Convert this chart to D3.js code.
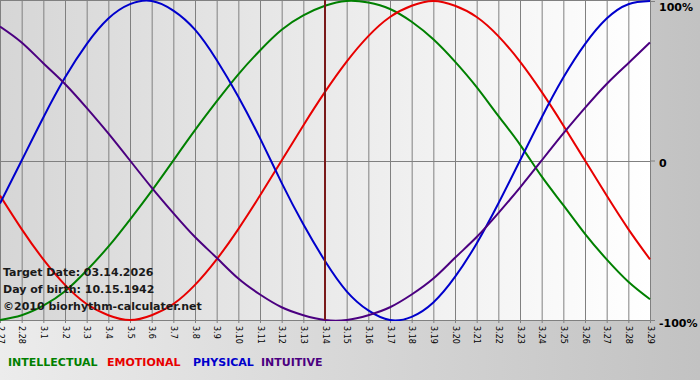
<!DOCTYPE html>
<html>
<head>
<meta charset="utf-8">
<script src="https://cdn.jsdelivr.net/npm/d3@7"></script>
<style>
  body { margin: 0; background: #fff; }
  svg { display: block; }
</style>
</head>
<body>
<svg width="700" height="380"></svg>
<script>
// days shown on the x axis
var days = ["2.27","2.28","3.1","3.2","3.3","3.4","3.5","3.6","3.7","3.8","3.9","3.10","3.11","3.12","3.13",
  "3.14","3.15","3.16","3.17","3.18","3.19","3.20","3.21","3.22","3.23","3.24","3.25","3.26","3.27","3.28","3.29"]
var targetDay = "3.14"

// values, -1 .. 1
var intellectual = [-1.00,-0.97,-0.91,-0.82,-0.69,-0.54,-0.37,-0.19,0,0.19,0.37,0.54,0.69,0.82,0.91,0.97,
  1.00,0.99,0.95,0.87,0.76,0.62,0.46,0.28,0.10,-0.10,-0.28,-0.46,-0.62,-0.76,-0.87]
var emotional = [-0.22,-0.43,-0.62,-0.78,-0.90,-0.97,-1.00,-0.97,-0.90,-0.78,-0.62,-0.43,-0.22,0,0.22,0.43,
  0.62,0.78,0.90,0.97,1.00,0.97,0.90,0.78,0.62,0.43,0.22,0,-0.22,-0.43,-0.62]
var physical = [-0.27,0,0.27,0.52,0.73,0.89,0.98,1.00,0.94,0.82,0.63,0.40,0.14,-0.14,-0.40,-0.63,
  -0.82,-0.94,-1.00,-0.98,-0.89,-0.73,-0.52,-0.27,0,0.27,0.52,0.73,0.89,0.98,1.00]
var intuitive = [0.84,0.74,0.61,0.48,0.33,0.17,0,-0.17,-0.33,-0.48,-0.61,-0.74,-0.84,-0.92,-0.97,-1.00,
  -1.00,-0.97,-0.92,-0.84,-0.74,-0.61,-0.48,-0.33,-0.17,0,0.17,0.33,0.48,0.61,0.74]

var yTicks = [1, 0, -1]
var yTickLabels = ["100%", "0", "-100%"]
var infoLines = ["Target Date: 03.14.2026", "Day of birth: 10.15.1942", "\u00a92010 biorhythm-calculater.net"]

var series = [
  {name: "INTELLECTUAL", values: intellectual, color: "#008000"},
  {name: "EMOTIONAL", values: emotional, color: "#e80000"},
  {name: "PHYSICAL", values: physical, color: "#0000cc"},
  {name: "INTUITIVE", values: intuitive, color: "#4b0080"}
]

var svg = d3.select('svg')
var font = "'DejaVu Sans', Verdana, sans-serif"
var plotW = 650, plotH = 320

var defs = svg.append('defs')
var bg = defs.append('linearGradient').attr('id', 'bg')
bg.append('stop').attr('offset', '0%').attr('stop-color', '#ececec')
bg.append('stop').attr('offset', '100%').attr('stop-color', '#c2c2c2')
var pbg = defs.append('linearGradient').attr('id', 'pbg')
pbg.append('stop').attr('offset', '0%').attr('stop-color', '#d6d6d6')
pbg.append('stop').attr('offset', '100%').attr('stop-color', '#ffffff')
defs.append('clipPath').attr('id', 'clip')
  .append('rect').attr('width', plotW + 1).attr('height', plotH + 1)

svg.append('rect').attr('width', 700).attr('height', 380).attr('fill', 'url(#bg)')
svg.append('rect').attr('width', plotW + 1).attr('height', plotH + 1).attr('fill', 'url(#pbg)')

var x = d3.scalePoint().domain(days).range([0, plotW])
var y = d3.scaleLinear().domain([-1, 1]).range([plotH, 1])

// vertical grid + day labels
var xAxis = svg.append('g')
  .attr('transform', 'translate(0,' + (plotH + 3) + ')')
  .call(d3.axisBottom(x).tickSizeInner(-(plotH + 3)).tickSizeOuter(0).tickPadding(0))
xAxis.select('.domain').remove()
xAxis.selectAll('line').attr('stroke', '#808080')
xAxis.selectAll('text')
  .attr('transform', 'rotate(90)')
  .attr('x', 3).attr('y', 0).attr('dy', '0.35em')
  .style('text-anchor', 'start')
  .style('font-family', font).style('font-size', '8px').attr('fill', '#000')

// borders and zero line
svg.append('line').attr('x1', 0).attr('x2', plotW + 1).attr('y1', 0.5).attr('y2', 0.5).attr('stroke', '#808080')
svg.append('line').attr('x1', 0).attr('x2', plotW + 1).attr('y1', plotH + 0.5).attr('y2', plotH + 0.5).attr('stroke', '#808080')
svg.append('line').attr('x1', plotW + 0.5).attr('x2', plotW + 0.5).attr('y1', 0).attr('y2', plotH + 1).attr('stroke', '#808080')
svg.append('line').attr('x1', 0).attr('x2', plotW).attr('y1', Math.round(y(0)) + 0.5).attr('y2', Math.round(y(0)) + 0.5).attr('stroke', '#808080')

var yAxis = svg.append('g')
  .attr('transform', 'translate(' + (plotW + 1) + ',0)')
  .call(d3.axisRight(y).tickValues(yTicks).tickSizeInner(4).tickSizeOuter(0).tickPadding(4)
    .tickFormat(function(d, i){ return yTickLabels[i] }))
yAxis.select('.domain').remove()
yAxis.selectAll('line').attr('stroke', '#808080')
yAxis.selectAll('text')
  .attr('dy', function(d){ return d == 1 ? '0.85em' : '0.55em' })
  .style('font-family', font).style('font-size', '11px').style('font-weight', 'bold').attr('fill', '#000')

// curves
var line = d3.line()
  .x(function(d, i){ return x(days[i]) })
  .y(function(d){ return y(d) })
  .curve(d3.curveNatural)

svg.append('g').attr('clip-path', 'url(#clip)')
  .selectAll('path').data(series).enter()
  .append('path')
  .attr('d', function(s){ return line(s.values) })
  .attr('fill', 'none')
  .attr('stroke', function(s){ return s.color })
  .attr('stroke-width', 2)

// today marker
svg.append('line')
  .attr('x1', x(targetDay)).attr('x2', x(targetDay))
  .attr('y1', 0).attr('y2', plotH)
  .attr('stroke', '#7a1a1a').attr('stroke-width', 2)

// info text
svg.selectAll('.info').data(infoLines).enter()
  .append('text').attr('class', 'info')
  .attr('x', 3).attr('y', function(d, i){ return 276 + i * 17 })
  .text(function(d){ return d })
  .style('font-family', font).style('font-size', '11px').style('font-weight', 'bold').attr('fill', '#1a1a1a')

// legend
var legendX = [8, 107, 193, 261]
svg.selectAll('.legend').data(series).enter()
  .append('text').attr('class', 'legend')
  .attr('x', function(d, i){ return legendX[i] }).attr('y', 366)
  .text(function(d){ return d.name })
  .attr('fill', function(d){ return d.color })
  .style('font-family', font).style('font-size', '11px').style('font-weight', 'bold')
</script>
</body>
</html>
